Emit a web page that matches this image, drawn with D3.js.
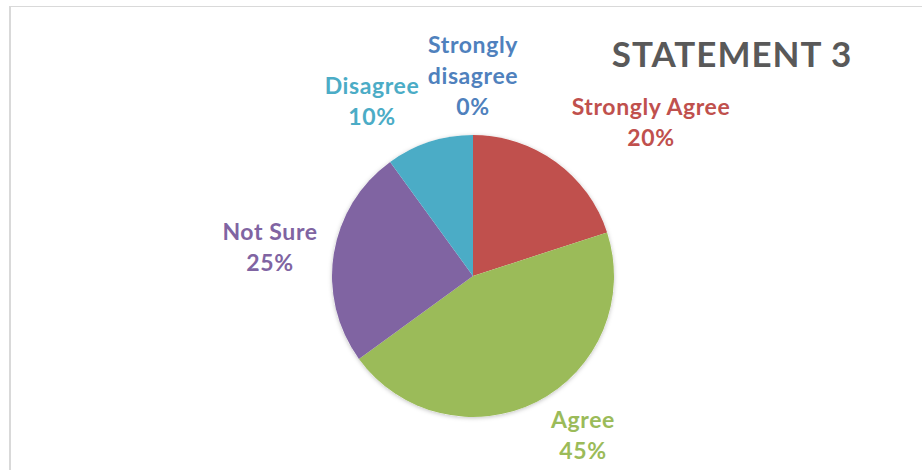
<!DOCTYPE html>
<html>
<head>
<meta charset="utf-8">
<script src="https://cdn.jsdelivr.net/npm/d3@7"></script>
<style>
  html, body { margin: 0; padding: 0; background: #ffffff; }
  svg { display: block; }
  text { font-family: Lato, "Open Sans", "Noto Sans", sans-serif; font-weight: 700; }
</style>
</head>
<body>
<svg id="chart" width="922" height="470"></svg>
<script>
// Survey responses for statement 3 (percent of respondents)
const categories = ["Strongly Agree", "Agree", "Not Sure", "Disagree", "Strongly disagree"];
const values = [20, 45, 25, 10, 0];
const colors = ["#C0504D", "#9BBB59", "#8064A2", "#4BACC6", "#4F81BD"];
const labelLines = [
  ["Strongly Agree"],
  ["Agree"],
  ["Not Sure"],
  ["Disagree"],
  ["Strongly", "disagree"]
];
const title = "STATEMENT 3";

// Layout
const W = 922, H = 470;
const cx = 473, cy = 276, radius = 141;
const lineGap = 31;
// label anchor offsets (first baseline) relative to the pie centre
const labelOffsets = [
  [178, -161],
  [110, 152],
  [-203, -36],
  [-101, -182],
  [0, -223]
];

const svg = d3.select("#chart");

// chart-area frame
svg.append("line").attr("x1", 10).attr("x2", 10).attr("y1", 6).attr("y2", H)
  .attr("stroke", "#d9d9d9").attr("stroke-width", 2);
svg.append("line").attr("x1", 9).attr("x2", W).attr("y1", 6.5).attr("y2", 6.5)
  .attr("stroke", "#d9d9d9").attr("stroke-width", 1.2);

const defs = svg.append("defs");
const shadow = defs.append("filter").attr("id", "pieShadow")
  .attr("x", "-10%").attr("y", "-10%").attr("width", "120%").attr("height", "120%");
shadow.append("feDropShadow").attr("dx", 0).attr("dy", 1).attr("stdDeviation", 2)
  .attr("flood-color", "#000").attr("flood-opacity", 0.25);

const pie = d3.pie().sort(null).value(d => d.value);
const arcs = pie(categories.map((c, i) => ({ name: c, value: values[i], i })));
const arc = d3.arc().innerRadius(0).outerRadius(radius);

const g = svg.append("g").attr("transform", `translate(${cx},${cy})`);
g.append("circle").attr("r", radius).attr("fill", "#fff").attr("filter", "url(#pieShadow)");
g.selectAll("path.slice")
  .data(arcs)
  .join("path")
  .attr("class", "slice")
  .attr("d", arc)
  .attr("fill", d => colors[d.data.i]);

// data labels: category name and percentage
const labels = g.selectAll("text.label")
  .data(arcs)
  .join("text")
  .attr("class", "label")
  .attr("text-anchor", "middle")
  .attr("font-size", 23)
  .attr("letter-spacing", 0.6)
  .attr("fill", d => colors[d.data.i]);

labels.each(function(d) {
  const [ox, oy] = labelOffsets[d.data.i];
  const lines = labelLines[d.data.i].concat([d.data.value + "%"]);
  d3.select(this).selectAll("tspan")
    .data(lines)
    .join("tspan")
    .attr("x", ox)
    .attr("y", (t, k) => oy + k * lineGap)
    .text(t => t);
});

svg.append("text")
  .attr("x", 732).attr("y", 67)
  .attr("text-anchor", "middle")
  .attr("font-size", 35)
  .attr("letter-spacing", 1)
  .attr("fill", "#595959")
  .text(title);
</script>
</body>
</html>
